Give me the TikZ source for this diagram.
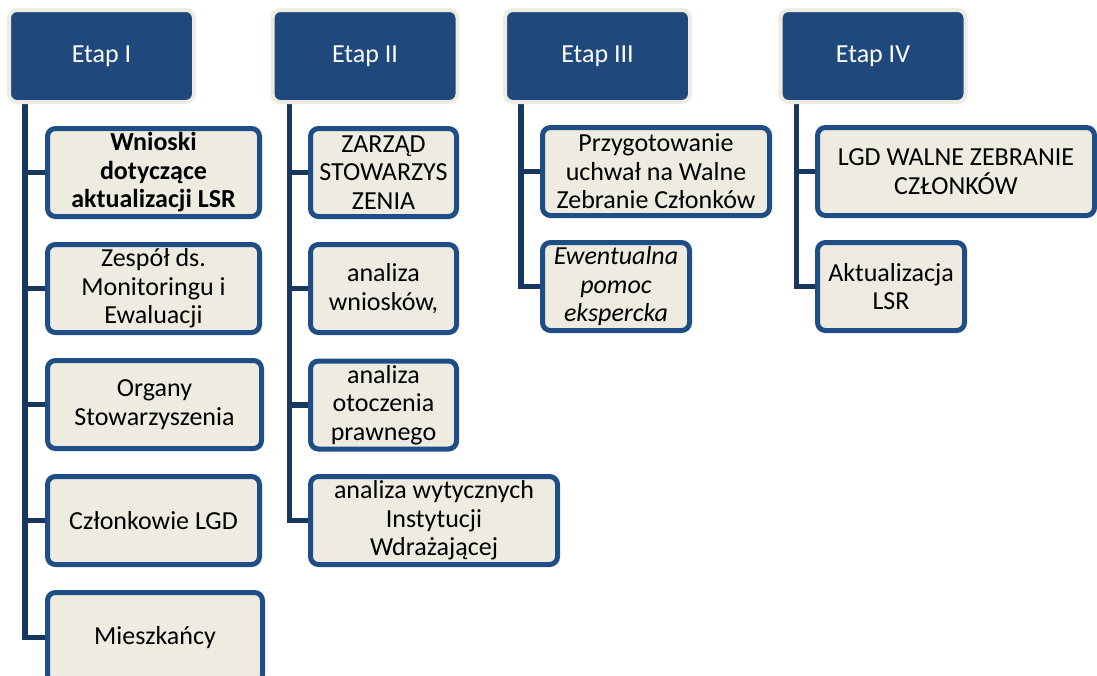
\documentclass[tikz,border=0pt]{standalone}
\usepackage{fontspec}
\setmainfont{Carlito}
\usetikzlibrary{backgrounds}
\definecolor{etapblue}{RGB}{31,73,125}
\definecolor{boxline}{RGB}{31,78,135}
\definecolor{linkblue}{RGB}{23,55,94}
\definecolor{boxfill}{RGB}{238,236,225}

\begin{document}
\begin{tikzpicture}[x=1pt, y=-1pt,
    etap/.style={rectangle, rounded corners=8pt, fill=etapblue, draw=boxfill, line width=4pt,
        text=white, minimum width=185pt, minimum height=92pt, inner sep=0pt,
        font=\fontsize{26}{28.5}\selectfont},
    item/.style={rectangle, rounded corners=8pt, fill=boxfill, draw=boxline, line width=5pt,
        align=center, inner sep=0pt, minimum height=88pt,
        font=\fontsize{26}{28.5}\selectfont},
    link/.style={draw=linkblue, line width=5.5pt}]
    \useasboundingbox (0,0) rectangle (1097,675);
    \clip (0,0) rectangle (1097,675);

    % etapy
    \node[etap] (h1) at (101.5,56) {Etap I};
    \node[etap] (h2) at (365,56) {Etap II};
    \node[etap] (h3) at (597.5,56) {Etap III};
    \node[etap] (h4) at (873,56) {Etap IV};

    % Etap I
    \node[item, minimum width=212pt] (w1) at (153.5,172.5) {\textbf{Wnioski}\\\textbf{dotyczące}\\\textbf{aktualizacji LSR}};
    \node[item, minimum width=212pt] (w2) at (153.5,288.5) {Zespół ds.\\Monitoringu i\\Ewaluacji};
    \node[item, minimum width=214pt] (w3) at (154.5,404.5) {Organy\\Stowarzyszenia};
    \node[item, minimum width=212pt] (w4) at (153.5,520.5) {Członkowie LGD};
    \node[item, minimum width=215pt, minimum height=90pt] (w5) at (155,637.5) {Mieszkańcy};

    % Etap II
    \node[item, minimum width=146pt] (z1) at (383.5,172.5) {ZARZĄD\\STOWARZYS\\ZENIA};
    \node[item, minimum width=146pt] (z2) at (383.5,288.5) {analiza\\wniosków,};
    \node[item, minimum width=146pt] (z3) at (383.5,405) {analiza\\otoczenia\\prawnego};
    \node[item, minimum width=247pt] (z4) at (434,520.5) {analiza wytycznych\\Instytucji\\Wdrażającej};

    % Etap III
    \node[item, minimum width=227pt] (p1) at (656,171.5) {Przygotowanie\\uchwał na Walne\\Zebranie Członków};
    \node[item, minimum width=147pt] (p2) at (616,286.5) {\textit{Ewentualna}\\\textit{pomoc}\\\textit{ekspercka}};

    % Etap IV
    \node[item, minimum width=277pt] (l1) at (956,171.5) {LGD WALNE ZEBRANIE\\CZŁONKÓW};
    \node[item, minimum width=147pt] (l2) at (891,286.5) {Aktualizacja\\LSR};

    \begin{scope}[on background layer]
        \coordinate (t1) at ([xshift=18pt]h1.south west);
        \coordinate (t2) at ([xshift=19pt]h2.south west);
        \coordinate (t3) at ([xshift=18pt]h3.south west);
        \coordinate (t4) at ([xshift=18pt]h4.south west);
        \foreach \c in {w1,w2,w3,w4,w5} \draw[link] (t1) |- (\c.west);
        \foreach \c in {z1,z2,z3,z4} \draw[link] (t2) |- (\c.west);
        \foreach \c in {p1,p2} \draw[link] (t3) |- (\c.west);
        \foreach \c in {l1,l2} \draw[link] (t4) |- (\c.west);
    \end{scope}
\end{tikzpicture}
\end{document}
